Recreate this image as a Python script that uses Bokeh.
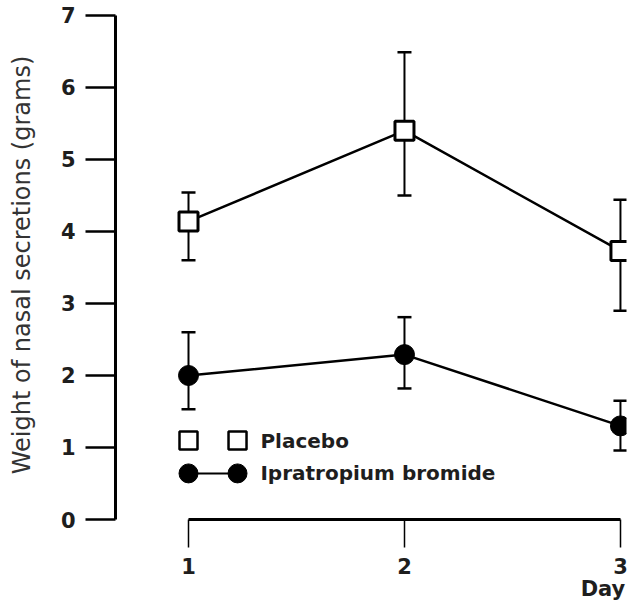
from bokeh.plotting import figure
from bokeh.models import ColumnDataSource, Whisker, Range1d, FixedTicker, LinearAxis
from bokeh.core.properties import value
from bokeh.embed import file_html
from bokeh.resources import INLINE

days = [1, 2, 3]
placebo_mean = [4.14, 5.40, 3.73]
placebo_upper = [4.54, 6.49, 4.44]
placebo_lower = [3.60, 4.50, 2.90]
ipra_mean = [2.00, 2.29, 1.30]
ipra_upper = [2.60, 2.81, 1.65]
ipra_lower = [1.53, 1.82, 0.96]
y_ticks = [0, 1, 2, 3, 4, 5, 6, 7]
series_names = ["Placebo", "Ipratropium bromide"]
x_title = "Day"

FONT = "DejaVu Sans"
INK = "#1e1e1e"

p = figure(width=628, height=608, output_backend="svg", toolbar_location=None,
           x_range=Range1d(0.662, 3.028), y_range=Range1d(0, 7.069),
           min_border_left=115, min_border_right=2, min_border_top=10, min_border_bottom=89)
p.outline_line_color = None
p.grid.visible = False
p.background_fill_color = "white"
p.border_fill_color = "white"

# axes
p.yaxis.ticker = FixedTicker(ticks=y_ticks)
p.yaxis.bounds = (0, 7)
p.yaxis.axis_line_width = 3
p.yaxis.major_tick_line_width = 2.5
p.yaxis.major_tick_out = 30
p.yaxis.major_tick_in = 0
p.yaxis.minor_tick_line_color = None
p.yaxis.major_label_standoff = 10
p.yaxis.major_label_text_font = FONT
p.yaxis.major_label_text_font_style = "bold"
p.yaxis.major_label_text_font_size = "21px"
p.yaxis.major_label_text_color = INK
p.yaxis.axis_label = "Weight of nasal secretions (grams)"
p.yaxis.axis_label_text_font = FONT
p.yaxis.axis_label_text_font_style = "normal"
p.yaxis.axis_label_text_font_size = "24px"
p.yaxis.axis_label_text_color = "#333333"
p.yaxis.axis_label_standoff = 22

p.xaxis.ticker = FixedTicker(ticks=days)
p.xaxis.bounds = (1, 3)
p.xaxis.axis_line_width = 3
p.xaxis.major_tick_line_width = 1.5
p.xaxis.major_tick_out = 28
p.xaxis.major_tick_in = 0
p.xaxis.minor_tick_line_color = None
p.xaxis.major_label_standoff = 10
p.xaxis.major_label_text_font = FONT
p.xaxis.major_label_text_font_style = "bold"
p.xaxis.major_label_text_font_size = "21px"
p.xaxis.major_label_text_color = INK

# "Day" title under the last tick, as a second bottom axis
day_pos = 2.919
title_axis = LinearAxis(ticker=FixedTicker(ticks=[day_pos]),
                        major_label_overrides={day_pos: x_title})
title_axis.axis_line_color = None
title_axis.major_tick_line_color = None
title_axis.minor_tick_line_color = None
title_axis.major_tick_out = 0
title_axis.major_tick_in = 0
title_axis.major_label_standoff = 0
title_axis.major_label_text_font = FONT
title_axis.major_label_text_font_style = "bold"
title_axis.major_label_text_font_size = "21px"
title_axis.major_label_text_color = INK
p.add_layout(title_axis, "below")

src_p = ColumnDataSource(dict(x=days, y=placebo_mean, up=placebo_upper, lo=placebo_lower))
src_i = ColumnDataSource(dict(x=days, y=ipra_mean, up=ipra_upper, lo=ipra_lower))

for src in (src_p, src_i):
    w = Whisker(source=src, base="x", upper="up", lower="lo", line_color="black", line_width=2)
    w.upper_head.size = 14
    w.lower_head.size = 14
    w.upper_head.line_width = 2.5
    w.lower_head.line_width = 2.5
    p.add_layout(w)

p.line("x", "y", source=src_p, line_color="black", line_width=2.5)
p.scatter("x", "y", source=src_p, marker="square", size=19, fill_color="white",
          line_color="black", line_width=3)
p.line("x", "y", source=src_i, line_color="black", line_width=2.5)
p.scatter("x", "y", source=src_i, marker="circle", size=20, fill_color="black",
          line_color="black")

# manual legend
lg_x = [1.0, 1.227]
p.scatter(lg_x, [1.097, 1.097], marker="square", size=18, fill_color="white",
          line_color="black", line_width=2.5)
p.line(lg_x, [0.64, 0.64], line_color="black", line_width=2)
p.scatter(lg_x, [0.64, 0.64], marker="circle", size=19, fill_color="black", line_color="black")
p.text([1.333, 1.333], [1.097, 0.64], text=series_names, text_font=value(FONT),
       text_font_style="bold", text_font_size="20px", text_baseline="middle",
       text_color=INK)

open("out.html", "w").write(file_html(p, INLINE))
